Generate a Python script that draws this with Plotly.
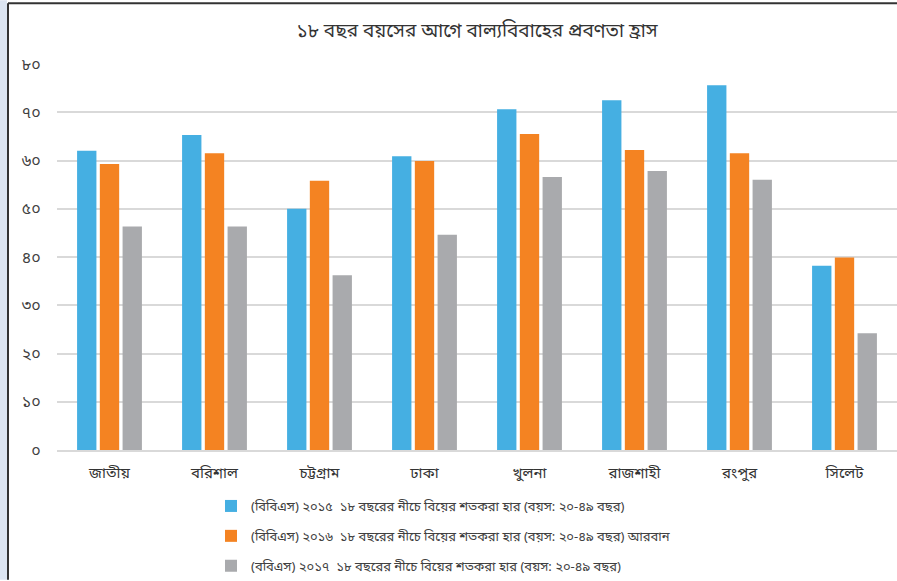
import plotly.graph_objects as go

categories = ["জাতীয়", "বরিশাল", "চট্টগ্রাম", "ঢাকা", "খুলনা", "রাজশাহী", "রংপুর", "সিলেট"]
series_names = [
    "(বিবিএস) ২০১৫  ১৮ বছরের নীচে বিয়ের শতকরা হার (বয়স: ২০-৪৯ বছর)",
    "(বিবিএস) ২০১৬  ১৮ বছরের নীচে বিয়ের শতকরা হার (বয়স: ২০-৪৯ বছর) আরবান",
    "(ববিএস) ২০১৭  ১৮ বছরের নীচে বিয়ের শতকরা হার (বয়স: ২০-৪৯ বছর)",
]
values_2015 = [62.0, 65.3, 50.0, 60.9, 70.6, 72.5, 75.6, 38.2]
values_2016 = [59.3, 61.5, 55.8, 59.9, 65.5, 62.2, 61.5, 39.9]
values_2017 = [46.3, 46.3, 36.2, 44.6, 56.6, 57.8, 56.0, 24.2]
colors = ["#45AFE2", "#F48322", "#A9AAAD"]
tick_vals = [0, 10, 20, 30, 40, 50, 60, 70, 80]
tick_text = ["০", "১০", "২০", "৩০", "৪০", "৫০", "৬০", "৭০", "৮০"]
title_text = "১৮ বছর বয়সের আগে বাল্যবিবাহের প্রবণতা হ্রাস"

FONT = "Noto Sans Bengali, Lohit Bengali, Noto Sans, sans-serif"

fig = go.Figure()
for i, (name, vals) in enumerate(zip(series_names, [values_2015, values_2016, values_2017])):
    fig.add_trace(go.Bar(x=categories, y=vals, name=name, marker_color=colors[i],
                         marker_line_width=0, legendgroup=f"g{i}", hoverinfo="skip"))

W, H = 897, 581
L, R, T, B = 57, 0, 64, 130
pw, ph = W - L - R, H - T - B

def px2x(px):
    return (px - L) / pw

def py2y(py):
    return 1 - (py - T) / ph

fig.update_layout(
    width=W, height=H,
    margin=dict(l=L, r=R, t=T, b=B, pad=0),
    paper_bgcolor="white", plot_bgcolor="white",
    font=dict(family=FONT, color="#404040"),
    title=dict(text=title_text, x=0.5, xref="paper", y=1 - 30 / H, yref="container",
               xanchor="center", yanchor="middle", font=dict(size=19, color="#333333")),
    barmode="group", bargap=0.35, bargroupgap=0.15,
    showlegend=True,
    legend=dict(orientation="v", x=px2x(211), xanchor="left", y=py2y(492), yanchor="top",
                font=dict(size=13, color="#404040"), tracegroupgap=10,
                bgcolor="rgba(0,0,0,0)", itemclick=False, itemdoubleclick=False),
    xaxis=dict(showgrid=False, showline=True, linecolor="#D9D9D9", linewidth=2,
               tickfont=dict(size=15, color="#333333"), ticks="outside", ticklen=8,
               tickcolor="rgba(0,0,0,0)", fixedrange=True),
    yaxis=dict(range=[0, 80], tickvals=tick_vals, ticktext=tick_text,
               showgrid=True, gridcolor="#D9D9D9", gridwidth=2, zeroline=False,
               tickfont=dict(size=16, color="#404040"), ticks="outside", ticklen=12,
               tickcolor="rgba(0,0,0,0)", fixedrange=True),
    shapes=[
        dict(type="rect", xref="paper", yref="paper", x0=px2x(0), x1=px2x(7), y0=py2y(H), y1=py2y(0),
             fillcolor="#DCE5F2", line_width=0, layer="below"),
        dict(type="line", xref="paper", yref="paper", x0=px2x(8), x1=px2x(8), y0=py2y(H), y1=py2y(3),
             line=dict(color="#333333", width=2)),
        dict(type="line", xref="paper", yref="paper", x0=px2x(8), x1=px2x(W), y0=py2y(3), y1=py2y(3),
             line=dict(color="#333333", width=2)),
    ],
)

fig.write_html("out.html", config={"displayModeBar": False},
               post_script="document.body.style.margin='0';document.body.style.padding='0';")
